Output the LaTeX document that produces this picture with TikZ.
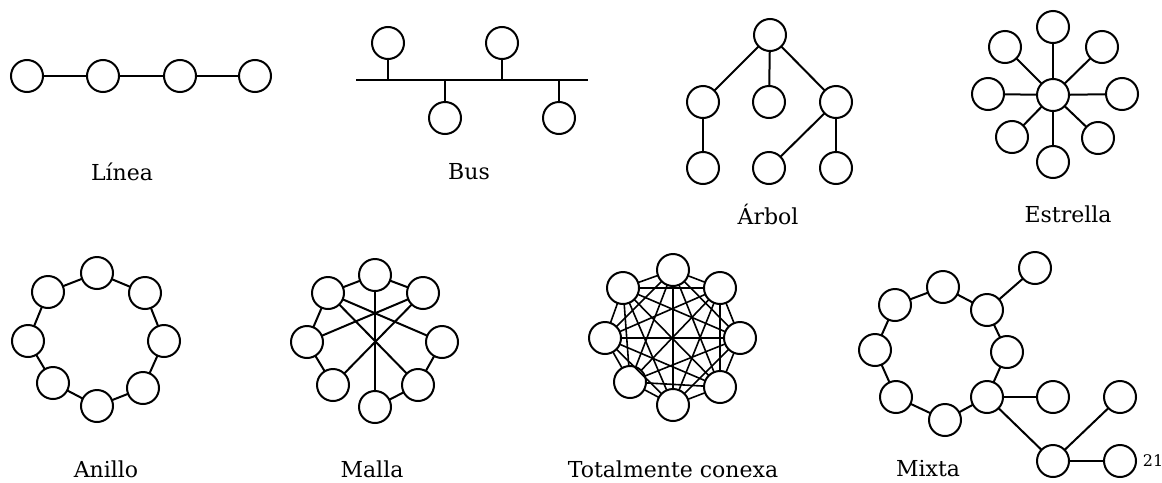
\documentclass[tikz,border=0pt]{standalone}
\usepackage{fontspec}
\setmainfont{DejaVu Serif}
\usepackage{tikz}

\begin{document}
\begin{tikzpicture}[x=0.75pt,y=-0.75pt,
	nd/.style={circle,draw,line width=1.5pt,minimum size=24pt,inner sep=0pt,outer sep=0pt},
	ln/.style={line width=1.5pt},
	thn/.style={line width=1.2pt},
	lbl/.style={font=\fontsize{16.5}{20}\selectfont,inner sep=0pt}]

					\useasboundingbox (0,0) rectangle (1162,482);

					\node[nd] (n1) at (27,76) {};
					\node[nd] (n2) at (103,76) {};
					\node[nd] (n3) at (180,76) {};
					\node[nd] (n4) at (255,76) {};
					\draw[ln] (n1) -- (n2);
					\draw[ln] (n2) -- (n3);
					\draw[ln] (n3) -- (n4);
					\node[lbl] (tlinea) at (122,172) {Línea};

					\coordinate (busl) at (356,80);
					\coordinate (busr) at (588,80);
					\draw[ln] (busl) -- (busr);
					\node[nd] (u1) at (388,43) {};
					\node[nd] (u2) at (502,43) {};
					\node[nd] (d1) at (445,118) {};
					\node[nd] (d2) at (559,118) {};
					\draw[ln] (u1) -- (u1 |- busl);
					\draw[ln] (u2) -- (u2 |- busl);
					\draw[ln] (d1) -- (d1 |- busl);
					\draw[ln] (d2) -- (d2 |- busl);
					\node[lbl] (tbus) at (469,172) {Bus};

					\node[nd] (b1) at (770,35) {};
					\node[nd] (b2) at (703,102) {};
					\node[nd] (b3) at (769,102) {};
					\node[nd] (b4) at (836,102) {};
					\node[nd] (b5) at (703,168) {};
					\node[nd] (b6) at (769,168) {};
					\node[nd] (b7) at (836,168) {};
					\draw[ln] (b1) -- (b2);
					\draw[ln] (b1) -- (b3);
					\draw[ln] (b1) -- (b4);
					\draw[ln] (b2) -- (b5);
					\draw[ln] (b4) -- (b6);
					\draw[ln] (b4) -- (b7);
					\node[lbl] (tarbol) at (768,214) {Árbol};

					\node[nd] (s0) at (1053,95) {};
					\node[nd] (s1) at (1053,27) {};
					\node[nd] (s2) at (1102,47) {};
					\node[nd] (s3) at (1122,94) {};
					\node[nd] (s4) at (1098,138) {};
					\node[nd] (s5) at (1053,162) {};
					\node[nd] (s6) at (1012,137) {};
					\node[nd] (s7) at (988,94) {};
					\node[nd] (s8) at (1005,47) {};
					\draw[ln] (s0) -- (s1);
					\draw[ln] (s0) -- (s2);
					\draw[ln] (s0) -- (s3);
					\draw[ln] (s0) -- (s4);
					\draw[ln] (s0) -- (s5);
					\draw[ln] (s0) -- (s6);
					\draw[ln] (s0) -- (s7);
					\draw[ln] (s0) -- (s8);
					\node[lbl] (testrella) at (1068,214) {Estrella};

					\node[nd] (r1) at (97,273) {};
					\node[nd] (r2) at (145,293) {};
					\node[nd] (r3) at (164,341) {};
					\node[nd] (r4) at (143,388) {};
					\node[nd] (r5) at (97,406) {};
					\node[nd] (r6) at (53,383) {};
					\node[nd] (r7) at (28,341) {};
					\node[nd] (r8) at (48,292) {};
					\draw[ln] (r1) -- (r2);
					\draw[ln] (r2) -- (r3);
					\draw[ln] (r3) -- (r4);
					\draw[ln] (r4) -- (r5);
					\draw[ln] (r5) -- (r6);
					\draw[ln] (r6) -- (r7);
					\draw[ln] (r7) -- (r8);
					\draw[ln] (r8) -- (r1);
					\node[lbl] (tanillo) at (106,469) {Anillo};

					\node[nd] (a1) at (375,275) {};
					\node[nd] (a2) at (423,293) {};
					\node[nd] (a3) at (442,342) {};
					\node[nd] (a4) at (418,385) {};
					\node[nd] (a5) at (375,407) {};
					\node[nd] (a6) at (333,385) {};
					\node[nd] (a7) at (307,342) {};
					\node[nd] (a8) at (328,293) {};
					\draw[ln] (a1) -- (a2);
					\draw[ln] (a1) -- (a8);
					\draw[ln] (a8) -- (a7);
					\draw[ln] (a7) -- (a6);
					\draw[ln] (a5) -- (a4);
					\draw[ln] (a4) -- (a3);
					\draw[ln] (a1) -- (a5);
					\draw[ln] (a8) -- (a4);
					\draw[ln] (a8) -- (a3);
					\draw[ln] (a2) -- (a7);
					\draw[ln] (a2) -- (a6);
					\node[lbl] (tmalla) at (372,469) {Malla};

					\node[nd] (t1) at (673,270) {};
					\node[nd] (t2) at (720,288) {};
					\node[nd] (t3) at (740,338) {};
					\node[nd] (t4) at (720,387) {};
					\node[nd] (t5) at (673,405) {};
					\node[nd] (t6) at (630,382) {};
					\node[nd] (t7) at (605,338) {};
					\node[nd] (t8) at (623,288) {};
					\draw[thn] (t1) -- (t2) (t1) -- (t3) (t1) -- (t4) (t1) -- (t5) (t1) -- (t6) (t1) -- (t7) (t1) -- (t8);
					\draw[thn] (t2) -- (t3) (t2) -- (t4) (t2) -- (t5) (t2) -- (t6) (t2) -- (t7) (t2) -- (t8);
					\draw[thn] (t3) -- (t4) (t3) -- (t5) (t3) -- (t6) (t3) -- (t7) (t3) -- (t8);
					\draw[thn] (t4) -- (t5) (t4) -- (t6) (t4) -- (t7) (t4) -- (t8);
					\draw[thn] (t5) -- (t6) (t5) -- (t7) (t5) -- (t8);
					\draw[thn] (t6) -- (t7) (t6) -- (t8);
					\draw[thn] (t7) -- (t8);
					\node[lbl] (ttotal) at (673,469) {Totalmente conexa};

					\node[nd] (m1) at (943,287) {};
					\node[nd] (m2) at (987,310) {};
					\node[nd] (m3) at (1007,352) {};
					\node[nd] (m4) at (987,397) {};
					\node[nd] (m5) at (945,420) {};
					\node[nd] (m6) at (896,397) {};
					\node[nd] (m7) at (875,350) {};
					\node[nd] (m8) at (895,305) {};
					\node[nd] (m9) at (1035,268) {};
					\node[nd] (m10) at (1053,397) {};
					\node[nd] (m11) at (1053,461) {};
					\node[nd] (m12) at (1120,397) {};
					\node[nd] (m13) at (1120,461) {};
					\draw[ln] (m1) -- (m2);
					\draw[ln] (m2) -- (m3);
					\draw[ln] (m3) -- (m4);
					\draw[ln] (m4) -- (m5);
					\draw[ln] (m5) -- (m6);
					\draw[ln] (m6) -- (m7);
					\draw[ln] (m7) -- (m8);
					\draw[ln] (m8) -- (m1);
					\draw[ln] (m2) -- (m9);
					\draw[ln] (m4) -- (m10);
					\draw[ln] (m4) -- (m11);
					\draw[ln] (m11) -- (m12);
					\draw[ln] (m11) -- (m13);
					\node[lbl] (tmixta) at (928,469) {Mixta};
					\node[font=\fontsize{12}{14}\selectfont,inner sep=0pt] (tnum) at (1153,461) {21};

				\end{tikzpicture}
\end{document}
